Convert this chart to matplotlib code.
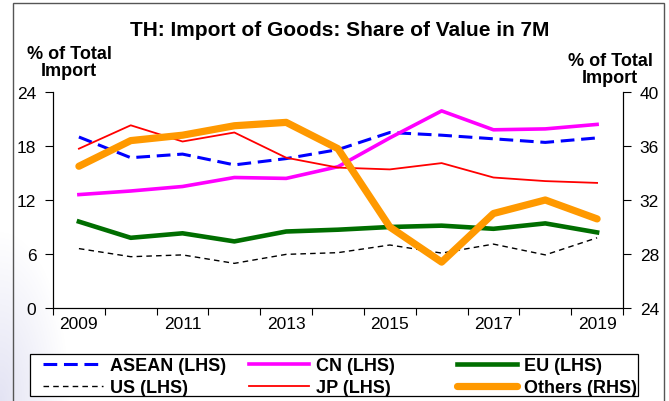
import matplotlib
matplotlib.use("Agg")
import matplotlib.pyplot as plt
from matplotlib.patches import Rectangle
import numpy as np

plt.rcParams['font.family'] = ['Liberation Sans', 'DejaVu Sans']

years = [2009, 2010, 2011, 2012, 2013, 2014, 2015, 2016, 2017, 2018, 2019]
tick_labels = ['2009', '2011', '2013', '2015', '2017', '2019']

asean = [19.0, 16.7, 17.1, 15.9, 16.6, 17.6, 19.5, 19.2, 18.8, 18.4, 18.9]
cn = [12.6, 13.0, 13.5, 14.5, 14.4, 15.7, 18.9, 21.9, 19.8, 19.9, 20.4]
eu = [9.6, 7.8, 8.3, 7.4, 8.5, 8.7, 9.0, 9.15, 8.8, 9.4, 8.4]
us = [6.6, 5.7, 5.9, 4.96, 5.96, 6.15, 7.0, 6.1, 7.1, 5.9, 7.8]
jp = [17.7, 20.3, 18.5, 19.5, 16.7, 15.6, 15.4, 16.1, 14.5, 14.1, 13.9]
others = [34.5, 36.4, 36.8, 37.5, 37.75, 35.8, 30.0, 27.4, 31.0, 32.0, 30.6]

W, H = 669, 402
fig = plt.figure(figsize=(W / 100, H / 100), dpi=100)

# faint watermark at lower left (soft gradient)
wax = fig.add_axes([0, 0, 70 / W, 170 / H], zorder=-10)
gx, gy = np.meshgrid(np.linspace(0, 1, 70), np.linspace(0, 1, 170))
d = np.clip(1 - np.sqrt(gx ** 2 + gy ** 2), 0, 1)
rgba = np.zeros((170, 70, 4))
rgba[..., 0] = 0.88
rgba[..., 1] = 0.88
rgba[..., 2] = 0.95
rgba[..., 3] = d * 0.9
wax.imshow(rgba, origin='lower', aspect='auto', extent=(0, 1, 0, 1))
wax.axis('off')

# outer frame
fig.patches.append(Rectangle((13 / W, -0.05), (664 - 13) / W, 1.05 - 4 / H,
                             transform=fig.transFigure, facecolor='none',
                             edgecolor='#555555', lw=1.0, zorder=-4))

ax = fig.add_axes([53 / W, 1 - 309 / H, (623 - 53) / W, (309 - 93) / H])
ax.patch.set_alpha(0)
ax2 = ax.twinx()
ax2.patch.set_alpha(0)

x = np.arange(len(years))

l_asean, = ax.plot(x, asean, color='#0000FF', lw=2.2, dashes=(4.5, 2.2), label='ASEAN (LHS)')
l_us, = ax.plot(x, us, color='black', lw=1.0, dashes=(4, 3), label='US (LHS)')
l_cn, = ax.plot(x, cn, color='#FF00FF', lw=2.6, label='CN (LHS)')
l_jp, = ax.plot(x, jp, color='#FF0000', lw=1.3, label='JP (LHS)')
l_eu, = ax.plot(x, eu, color='#006E00', lw=3.3, label='EU (LHS)')
l_oth, = ax2.plot(x, others, color='#FF9900', lw=5.2, label='Others (RHS)', solid_capstyle='round')

ax.set_xlim(-0.5, len(years) - 0.5)
ax.set_ylim(0, 24)
ax2.set_ylim(24, 40)
ax.set_yticks([0, 6, 12, 18, 24])
ax2.set_yticks([24, 28, 32, 36, 40])

ax.set_xticks(np.arange(-0.5, len(years), 1.0))
ax.set_xticklabels([])
ax.set_xticks(x[::2], minor=True)
ax.set_xticklabels(tick_labels, minor=True)
ax.tick_params(axis='x', which='major', direction='out', length=5, width=0.8)
ax.tick_params(axis='x', which='minor', length=0, pad=6, labelsize=12.5)
ax.tick_params(axis='y', direction='out', length=6, width=0.8, pad=6, labelsize=12.5)
ax2.tick_params(axis='y', direction='out', length=6, width=0.8, pad=6, labelsize=12.5)

for a in (ax, ax2):
    a.spines['top'].set_visible(False)
    for s in ('left', 'right', 'bottom'):
        a.spines[s].set_linewidth(0.8)

fig.text(340 / W, 1 - 31 / H, 'TH: Import of Goods: Share of Value in 7M',
         ha='center', va='center', fontsize=15, fontweight='bold')
fig.text(69 / W, 1 - 63 / H, '% of Total\nImport', ha='center', va='center',
         fontsize=13, fontweight='bold', linespacing=1.0)
fig.text(610 / W, 1 - 70 / H, '% of Total\nImport', ha='center', va='center',
         fontsize=13, fontweight='bold', linespacing=1.0)

# legend frame
fig.patches.append(Rectangle((30 / W, 1 - 397 / H), (638 - 30) / W, (397 - 355) / H,
                             transform=fig.transFigure, facecolor='white',
                             edgecolor='black', lw=0.9, zorder=5))

columns = [([l_asean, l_us], 43), ([l_cn, l_jp], 249), ([l_eu, l_oth], 457)]
for hs, xpix in columns:
    lg = fig.legend(handles=hs, loc='upper left',
                    bbox_to_anchor=(xpix / W, 1 - 358 / H),
                    frameon=False, prop={'weight': 'bold', 'size': 13},
                    handlelength=3.3, handletextpad=0.4, borderpad=0,
                    labelspacing=0.28, borderaxespad=0)
    lg.set_zorder(6)

fig.savefig('out.png', dpi=100)
